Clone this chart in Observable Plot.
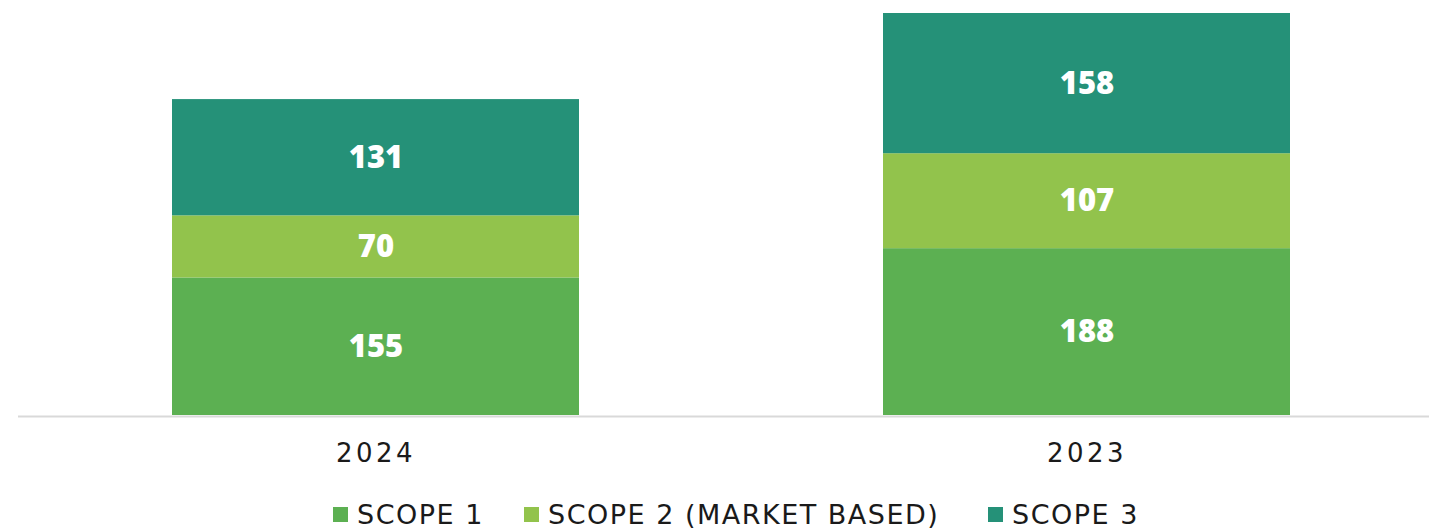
<!DOCTYPE html>
<html>
<head>
<meta charset="utf-8">
<script src="https://cdn.jsdelivr.net/npm/d3@7"></script>
<script src="https://cdn.jsdelivr.net/npm/@observablehq/plot@0.6"></script>
<style>
  html, body { margin: 0; padding: 0; background: #fff; }
  #wrap { position: relative; width: 1429px; height: 528px; }
  #chart svg { display: block; }
  g[aria-label="x-axis tick label"] text { letter-spacing: 3.5px; }
  .leg { position: absolute; top: 0; display: flex; align-items: center; height: 30px;
         font-family: "DejaVu Sans", sans-serif; font-size: 27px; color: #1a1a1a; letter-spacing: 1.5px; white-space: nowrap; }
  .leg .sw { width: 15px; height: 15px; margin-right: 9px; }
</style>
</head>
<body>
<div id="wrap">
  <div id="chart"></div>
  <div id="legend"></div>
</div>
<script>
const years = ["2024", "2023"];
const scopes = ["SCOPE 1", "SCOPE 2 (MARKET BASED)", "SCOPE 3"];
const scope1 = [155, 188];
const scope2 = [70, 107];
const scope3 = [131, 158];
const colors = ["#5cb052", "#92c34c", "#259178"];

const series = [scope1, scope2, scope3];
const data = [];
scopes.forEach((s, i) => years.forEach((y, j) => data.push({year: y, scope: s, value: series[i][j]})));

const chart = Plot.plot({
  width: 1429,
  height: 480,
  marginLeft: 18,
  marginRight: 0,
  marginTop: 13,
  marginBottom: 65,
  style: {fontFamily: "DejaVu Sans", background: "#fff"},
  x: {domain: years, range: [171, 1290], paddingInner: 0.428, paddingOuter: 0, label: null},
  y: {domain: [0, 453], axis: null},
  color: {domain: scopes, range: colors},
  marks: [
    Plot.ruleY([0], {stroke: "#d9d9d9", strokeWidth: 2, dy: 1}),
    Plot.barY(data, {x: "year", y: "value", fill: "scope", z: "scope"}),
    Plot.text(data, Plot.stackY({x: "year", y: "value", z: "scope", text: d => String(d.value),
      fill: "white", fontSize: 31, fontWeight: 800, fontFamily: "Open Sans"})),
    Plot.axisX({tickSize: 0, tickPadding: 28, fontSize: 26, fill: "#1a1a1a", label: null})
  ]
});
document.getElementById("chart").appendChild(chart);

const legendLeft = [333, 524, 988];
const legend = document.getElementById("legend");
scopes.forEach((s, i) => {
  const item = document.createElement("div");
  item.className = "leg";
  item.style.left = legendLeft[i] + "px";
  item.style.top = "499px";
  const sw = document.createElement("div");
  sw.className = "sw";
  sw.style.background = colors[i];
  const t = document.createElement("span");
  t.textContent = s;
  item.appendChild(sw);
  item.appendChild(t);
  legend.appendChild(item);
});
</script>
</body>
</html>
